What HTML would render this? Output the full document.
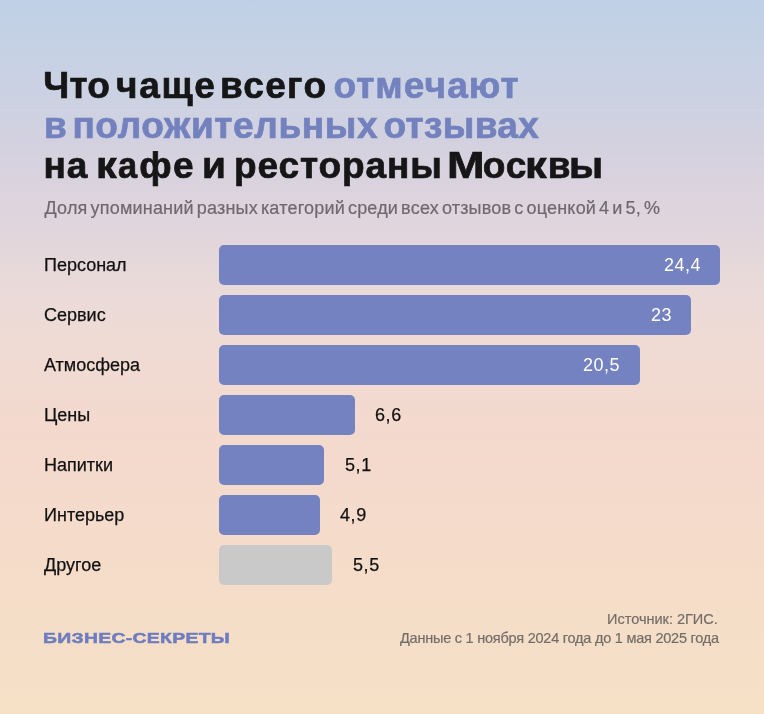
<!DOCTYPE html>
<html>
<head>
<meta charset="utf-8">
<style>
html,body{margin:0;padding:0;}
body{width:764px;height:714px;overflow:hidden;position:relative;
  font-family:"Liberation Sans", sans-serif;
  background:linear-gradient(180deg,#bfd0e6 0%,#cdd2e2 14.7%,#d2d1e0 19%,#d7d2df 23%,#e2d6dc 33.6%,#e9dad9 40%,#efdbd5 47%,#f4d9cd 61.6%,#f5ddc9 82%,#f6e0c6 100%);}
.w{position:absolute;font-weight:bold;font-size:37px;line-height:40px;white-space:nowrap;color:#161616;-webkit-text-stroke:0.7px currentColor;}
.wrap{position:absolute;left:0;top:0;width:764px;height:714px;will-change:transform;}
.b{color:#7382be;}
.sub{position:absolute;left:44.5px;top:197.6px;font-size:18px;line-height:20px;letter-spacing:0.2px;word-spacing:-2.2px;color:#6d696d;white-space:nowrap;-webkit-text-stroke:0.2px currentColor;}
.lab{position:absolute;left:44px;font-size:18px;line-height:20px;color:#111;white-space:nowrap;-webkit-text-stroke:0.25px currentColor;}
.bar{position:absolute;left:219px;height:40px;border-radius:5px;background:#7482c1;}
.val{position:absolute;font-size:18px;line-height:20px;letter-spacing:0.6px;color:#111;white-space:nowrap;-webkit-text-stroke:0.25px currentColor;}
.in{color:#fff;-webkit-text-stroke:0;letter-spacing:0.5px;}
.logo{position:absolute;left:43px;top:628.5px;font-weight:bold;font-size:15.5px;line-height:18px;letter-spacing:0.25px;color:#6e7dbf;white-space:nowrap;transform:scaleX(1.25);transform-origin:0 0;-webkit-text-stroke:0.5px currentColor;}
.src{position:absolute;font-size:14.5px;line-height:18px;color:#736d68;white-space:nowrap;-webkit-text-stroke:0.2px currentColor;}
</style>
</head>
<body>
<div class="wrap">
<span class="w" style="left:43.2px;top:66px;letter-spacing:0.2px">Что</span>
<span class="w" style="left:116px;top:66px;letter-spacing:1.67px">чаще</span>
<span class="w" style="left:220px;top:66px;letter-spacing:1.38px">всего</span>
<span class="w b" style="left:333.4px;top:66px;letter-spacing:1.09px">отмечают</span>
<span class="w b" style="left:44px;top:106px;letter-spacing:0px">в</span>
<span class="w b" style="left:72.4px;top:106px;letter-spacing:0.63px">положительных</span>
<span class="w b" style="left:383.6px;top:106px;letter-spacing:0.32px">отзывах</span>
<span class="w" style="left:43.6px;top:146px;letter-spacing:0.8px">на</span>
<span class="w" style="left:95.7px;top:146px;transform:scaleX(1.12);transform-origin:0 0">к</span><span class="w" style="left:117.9px;top:146px;transform:scaleX(0.93);transform-origin:0 0">а</span><span class="w" style="left:139.2px;top:146px">ф</span><span class="w" style="left:172.9px;top:146px">е</span>
<span class="w" style="left:202px;top:146px;transform:scaleX(1.05);transform-origin:0 0">и</span>
<span class="w" style="left:234px;top:146px;letter-spacing:0.91px">рестораны</span>
<span class="w" style="left:447.2px;top:146px;transform:scaleX(1.22);transform-origin:0 0">М</span><span class="w" style="left:482.7px;top:146px">о</span><span class="w" style="left:505.8px;top:146px">с</span><span class="w" style="left:525.4px;top:146px;transform:scaleX(1.17);transform-origin:0 0">к</span><span class="w" style="left:547.7px;top:146px">в</span><span class="w" style="left:568.5px;top:146px;transform:scaleX(1.08);transform-origin:0 0">ы</span>
<div class="sub" id="sub">Доля упоминаний разных категорий среди всех отзывов с оценкой 4 и 5, %</div>

<div class="lab" style="top:255px">Персонал</div>
<div class="bar" style="top:245px;width:501px"></div>
<div class="val in" style="top:255px;right:63px">24,4</div>

<div class="lab" style="top:305px">Сервис</div>
<div class="bar" style="top:295px;width:472px"></div>
<div class="val in" style="top:305px;right:92px">23</div>

<div class="lab" style="top:355px">Атмосфера</div>
<div class="bar" style="top:345px;width:421px"></div>
<div class="val in" style="top:355px;right:144px">20,5</div>

<div class="lab" style="top:405px">Цены</div>
<div class="bar" style="top:395px;width:136px"></div>
<div class="val" style="top:405px;left:375px">6,6</div>

<div class="lab" style="top:455px">Напитки</div>
<div class="bar" style="top:445px;width:105px"></div>
<div class="val" style="top:455px;left:345px">5,1</div>

<div class="lab" style="top:505px">Интерьер</div>
<div class="bar" style="top:495px;width:101px"></div>
<div class="val" style="top:505px;left:340px">4,9</div>

<div class="lab" style="top:555px">Другое</div>
<div class="bar" style="top:545px;width:113px;background:#c9c9c9"></div>
<div class="val" style="top:555px;left:353px">5,5</div>

<div class="logo" id="logo">БИЗНЕС-СЕКРЕТЫ</div>
<div class="src" id="src1" style="top:609.7px;left:607px;letter-spacing:0px">Источник: 2ГИС.</div>
<div class="src" id="src2" style="top:628.9px;left:400px;letter-spacing:-0.23px">Данные с 1 ноября 2024 года до 1 мая 2025 года</div>
</div>
</body>
</html>
